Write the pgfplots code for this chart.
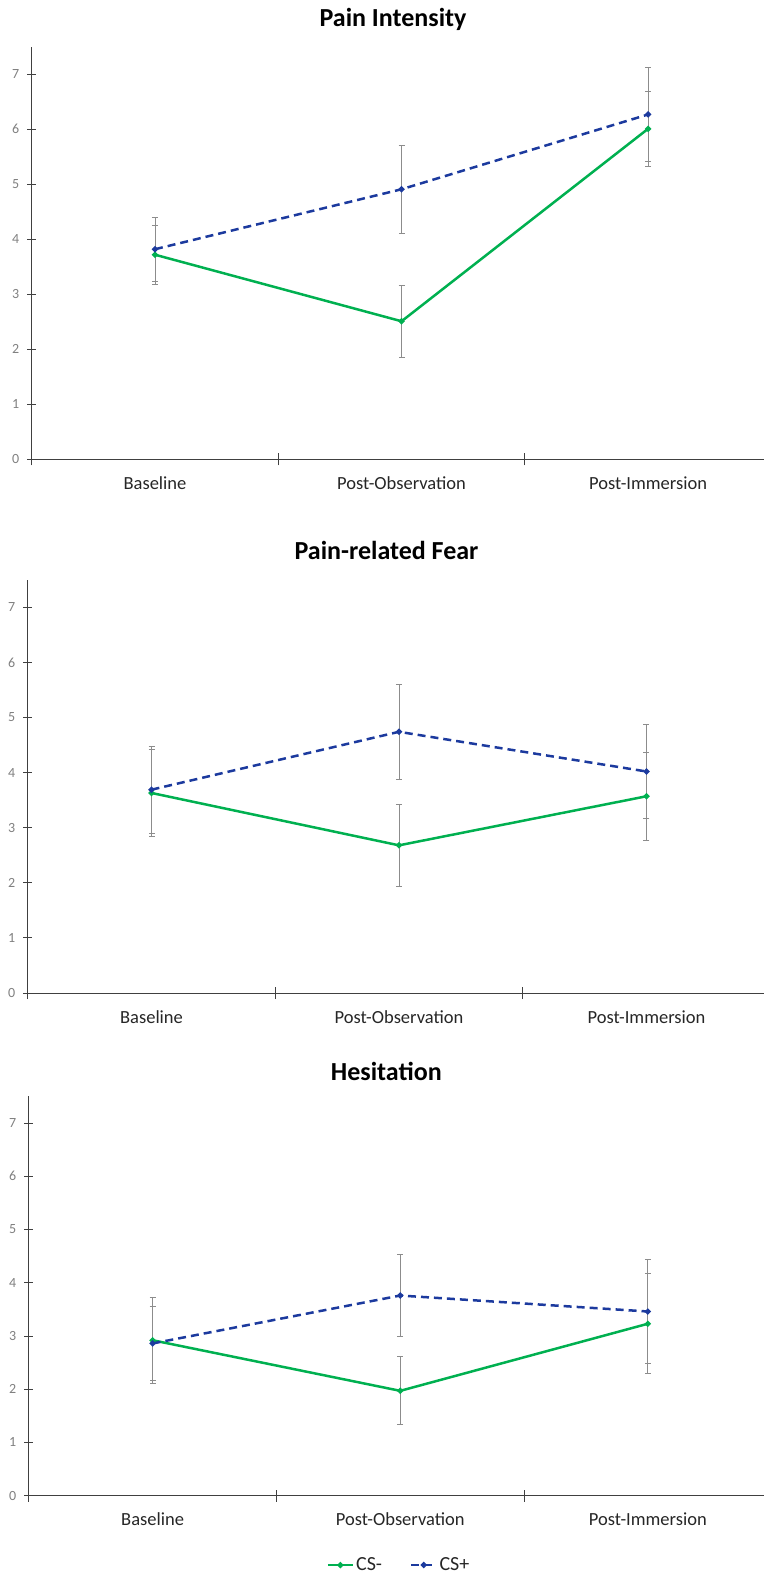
\documentclass[border=0pt]{standalone}
\usepackage{pgfplots}
\pgfplotsset{compat=1.18}
\usepackage{fontspec}
\setmainfont{Carlito}
\definecolor{csminus}{RGB}{0,176,80}
\definecolor{csplus}{RGB}{28,58,158}
\definecolor{axgray}{RGB}{64,64,64}
\definecolor{lblgray}{RGB}{128,128,128}
\definecolor{errgray}{RGB}{140,140,140}
\pgfplotsset{
  panel/.style={
    scale only axis,
    anchor=south west,
    xmin=-0.5, ymin=0, ymax=7.5,
    axis x line*=bottom, axis y line*=left,
    axis line style={-, draw=axgray, line width=1pt},
    tick style={draw=axgray, line width=1pt},
    tick align=center,
    major tick length=12pt,
    xtick={-0.5,0.5,1.5}, xticklabels={},
    extra x ticks={0,1,2},
    extra x tick labels={Baseline,Post-Observation,Post-Immersion},
    extra x tick style={major tick length=0pt},
    xticklabel style={anchor=base, inner sep=0pt, yshift=-30pt,
      font=\fontsize{18.5}{21}\selectfont, text=black!85},
    ytick=\empty,
    extra y ticks={0,1,2,3,4,5,6,7},
    extra y tick style={major tick length=8.7pt},
    yticklabel style={anchor=east, inner sep=0pt, xshift=-8pt,
      font=\fontsize{14}{16}\selectfont, text=lblgray},
    /pgf/number format/assume math mode=true,
    clip=false,
    legend image code/.code={\draw[mark repeat=2,mark phase=2,#1] plot coordinates {(0pt,0pt) (12.5pt,0pt) (25pt,0pt)};},
  },
  csm/.style={csminus, line width=2.5pt, mark=*, mark size=1.6pt, mark options={solid},
    error bars/.cd, y dir=both, y explicit,
    error bar style={errgray, line width=0.9pt, solid},
    error mark options={errgray, rotate=90, mark size=3pt, line width=0.9pt, solid}},
  csp/.style={csplus, line width=2.5pt, dash pattern=on 8pt off 5pt, mark=*, mark size=1.6pt, mark options={solid},
    error bars/.cd, y dir=both, y explicit,
    error bar style={errgray, line width=0.9pt, solid},
    error mark options={errgray, rotate=90, mark size=3pt, line width=0.9pt, solid}},
}
\newcommand{\titlefont}{\fontsize{26}{30}\selectfont\bfseries}
\begin{document}
\begin{tikzpicture}
\useasboundingbox (0pt,0pt) rectangle (764pt,-1575pt);
% Panel 1
\begin{axis}[panel, at={(31.7pt,-459.3pt)}, width=732.3pt, height=412.5pt, xmax=2.47]
\addplot[csm] table[x=x,y=y,y error=e] {
x y e
0 3.72 0.54
1 2.51 0.65
2 6.01 0.68
};
\addplot[csp] table[x=x,y=y,y error=e] {
x y e
0 3.82 0.58
1 4.91 0.80
2 6.27 0.86
};
\end{axis}
\node[anchor=base] at (393pt,-26pt) {\titlefont Pain Intensity};
% Panel 2
\begin{axis}[panel, at={(27.8pt,-993.0pt)}, width=736.2pt, height=413.3pt, xmax=2.475]
\addplot[csm] table[x=x,y=y,y error=e] {
x y e
0 3.63 0.79
1 2.68 0.75
2 3.57 0.80
};
\addplot[csp] table[x=x,y=y,y error=e] {
x y e
0 3.69 0.79
1 4.74 0.86
2 4.02 0.85
};
\end{axis}
\node[anchor=base] at (386.5pt,-559.3pt) {\titlefont Pain-related Fear};
% Panel 3
\begin{axis}[panel, at={(28.8pt,-1495.7pt)}, width=735.2pt, height=399.3pt, xmax=2.469,
  legend style={at={(0.5035,-0.1736)}, anchor=center, draw=none, fill=none,
    legend columns=2, font=\fontsize{20}{22}\selectfont, text=black!85,
    /tikz/every even column/.append style={column sep=26pt}},
  legend cell align=left]
\addplot[csm] table[x=x,y=y,y error=e] {
x y e
0 2.92 0.81
1 1.97 0.64
2 3.23 0.94
};
\addlegendentry{CS-}
\addplot[csp] table[x=x,y=y,y error=e] {
x y e
0 2.86 0.70
1 3.76 0.77
2 3.46 0.98
};
\addlegendentry{CS+}
\end{axis}
\node[anchor=base] at (386.3pt,-1080.7pt) {\titlefont Hesitation};
\end{tikzpicture}
\end{document}
